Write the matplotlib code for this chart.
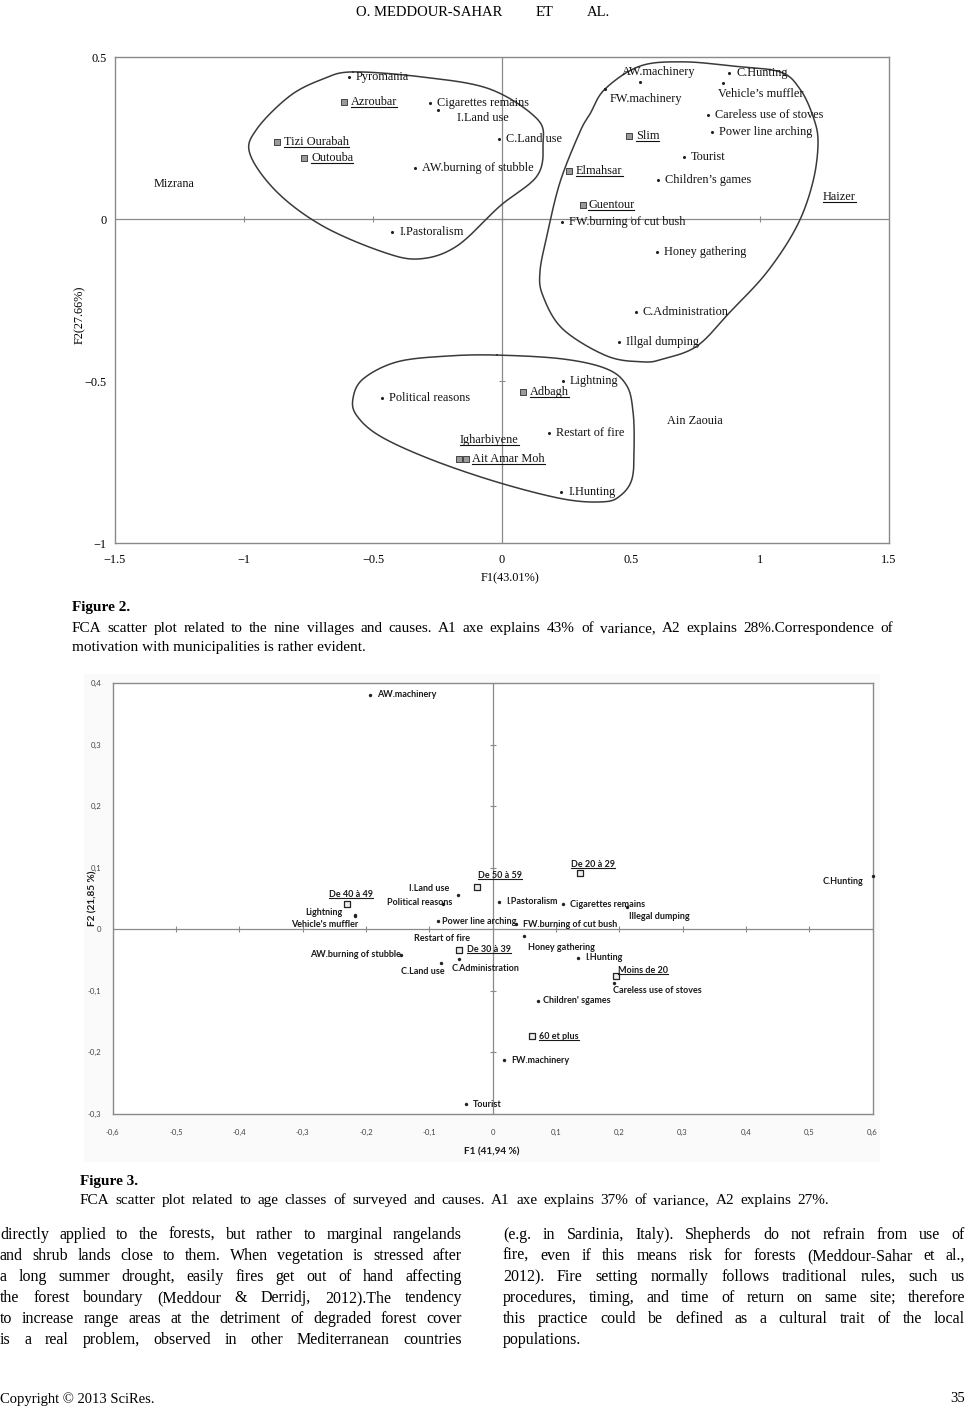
import numpy as np
import matplotlib
matplotlib.use('Agg')
import matplotlib.pyplot as plt
from matplotlib.lines import Line2D
from matplotlib.transforms import IdentityTransform
from matplotlib.patches import Rectangle

W, H = 967, 1414
SERIF = 'Liberation Serif'
SANS = 'Lato'

# ---------------- Figure 2 data ----------------
f2_cause_names = ['Pyromania', 'Cigarettes remains', 'I.Land use', 'C.Land use',
                  'AW.burning of stubble', 'I.Pastoralism', 'AW.machinery', 'FW.machinery',
                  'C.Hunting', 'Vehicle\u2019s muffler', 'Careless use of stoves',
                  'Power line arching', 'Tourist', 'Children\u2019s games',
                  'FW.burning of cut bush', 'Honey gathering', 'C.Administration',
                  'Illgal dumping', 'Lightning', 'Political reasons', 'Restart of fire',
                  'I.Hunting']
f2_cause_x = [-0.593, -0.279, -0.248, -0.012, -0.337, -0.426, 0.535, 0.399, 0.880, 0.857,
              0.798, 0.814, 0.705, 0.605, 0.232, 0.601, 0.519, 0.453, 0.236, -0.465,
              0.182, 0.229]
f2_cause_y = [0.438, 0.358, 0.336, 0.247, 0.157, -0.040, 0.423, 0.401, 0.451, 0.420,
              0.321, 0.268, 0.191, 0.120, -0.009, -0.102, -0.287, -0.380, -0.500, -0.552,
              -0.660, -0.843]
f2_village_names = ['Azroubar', 'Tizi Ourabah', 'Outouba', 'Slim', 'Elmahsar', 'Guentour',
                    'Adbagh', 'Igharbiyene', 'Ait Amar Moh']
f2_village_x = [-0.612, -0.872, -0.767, 0.492, 0.260, 0.314, 0.081, -0.167, -0.140]
f2_village_y = [0.361, 0.238, 0.188, 0.256, 0.148, 0.043, -0.534, -0.741, -0.741]
f2_textonly_names = ['Mizrana', 'Haizer', 'Ain Zaouia']
f2_textonly_x = [-1.35, 1.244, 0.640]
f2_textonly_y = [0.108, 0.068, -0.623]
f2_underlined = ['Azroubar', 'Tizi Ourabah', 'Outouba', 'Slim', 'Elmahsar', 'Guentour',
                 'Haizer', 'Adbagh', 'Igharbiyene', 'Ait Amar Moh']
f2_xticks = [-1.5, -1, -0.5, 0, 0.5, 1, 1.5]
f2_xticklabels = ['\u22121.5', '\u22121', '\u22120.5', '0', '0.5', '1', '1.5']
f2_yticks = [-1, -0.5, 0, 0.5]
f2_yticklabels = ['\u22121', '\u22120.5', '0', '0.5']
f2_xlabel = 'F1(43.01%)'
f2_ylabel = 'F2(27.66%)'

# group outlines (hand-drawn enclosing curves)
grp_left_x = [-0.578, -0.306, -0.047, 0.136, 0.159, 0.136, -0.008, -0.174, -0.318, -0.461,
              -0.694, -0.872, -0.977, -0.950, -0.822, -0.694]
grp_left_y = [0.454, 0.438, 0.401, 0.309, 0.231, 0.133, 0.040, -0.083, -0.123, -0.102,
              -0.022, 0.083, 0.201, 0.278, 0.380, 0.432]
grp_right_x = [0.399, 0.535, 0.702, 0.895, 1.078, 1.155, 1.205, 1.225, 1.205, 1.143, 1.027,
               0.884, 0.756, 0.624, 0.547, 0.407, 0.236, 0.159, 0.147, 0.174, 0.225, 0.302,
               0.341]
grp_right_y = [0.401, 0.472, 0.485, 0.472, 0.454, 0.401, 0.318, 0.238, 0.114, -0.022, -0.164,
               -0.287, -0.392, -0.432, -0.441, -0.423, -0.340, -0.238, -0.164, -0.052, 0.114,
               0.269, 0.324]
grp_bottom_x = [-0.019, 0.236, 0.407, 0.484, 0.508, 0.512, 0.504, 0.457, 0.391, 0.236,
                -0.019, -0.279, -0.473, -0.562, -0.578, -0.539, -0.407, -0.213]
grp_bottom_y = [-0.420, -0.432, -0.463, -0.515, -0.596, -0.701, -0.802, -0.855, -0.873,
                -0.864, -0.812, -0.741, -0.670, -0.608, -0.556, -0.494, -0.441, -0.423]

# ---------------- Figure 3 data ----------------
f3_cause_names = ['AW.machinery', 'Lightning', 'Vehicle\'s muffler', 'I.Land use',
                  'Political reasons', 'I.Pastoralism', 'Cigarettes remains',
                  'Illegal dumping', 'C.Hunting', 'Power line arching',
                  'FW.burning of cut bush', 'Honey gathering', 'Restart of fire',
                  'C.Administration', 'C.Land use', 'AW.burning of stubble', 'I.Hunting',
                  'Careless use of stoves', 'Children\' sgames', 'FW.machinery', 'Tourist']
f3_cause_x = [-0.194, -0.217, -0.217, -0.055, -0.078, 0.010, 0.111, 0.213, 0.601, -0.086,
              0.037, 0.050, -0.053, -0.053, -0.081, -0.145, 0.135, 0.192, 0.072, 0.018,
              -0.042]
f3_cause_y = [0.381, 0.023, 0.021, 0.056, 0.041, 0.045, 0.041, 0.037, 0.086, 0.014,
              0.008, -0.011, -0.033, -0.048, -0.055, -0.041, -0.046, -0.087, -0.116, -0.213,
              -0.284]
f3_age_names = ['De 40 \u00e0 49', 'De 50 \u00e0 59', 'De 20 \u00e0 29', 'De 30 \u00e0 39',
                'Moins de 20', '60 et plus']
f3_age_x = [-0.229, -0.025, 0.138, -0.053, 0.195, 0.063]
f3_age_y = [0.041, 0.069, 0.091, -0.033, -0.076, -0.174]
f3_xticks = [-0.6, -0.5, -0.4, -0.3, -0.2, -0.1, 0, 0.1, 0.2, 0.3, 0.4, 0.5, 0.6]
f3_xticklabels = ['-0,6', '-0,5', '-0,4', '-0,3', '-0,2', '-0,1', '0', '0,1', '0,2', '0,3',
                  '0,4', '0,5', '0,6']
f3_yticks = [-0.3, -0.2, -0.1, 0, 0.1, 0.2, 0.3, 0.4]
f3_yticklabels = ['-0,3', '-0,2', '-0,1', '0', '0,1', '0,2', '0,3', '0,4']
f3_xlabel = 'F1 (41,94 %)'
f3_ylabel = 'F2 (21,85 %)'

# ---------------- text content ----------------
header_parts = ['O. MEDDOUR-SAHAR', 'ET', 'AL.']
cap2_title = 'Figure 2.'
cap2_lines = ['FCA scatter plot related to the nine villages and causes. A1 axe explains 43% of variance, A2 explains 28%.Correspondence of',
              'motivation with municipalities is rather evident.']
cap3_title = 'Figure 3.'
cap3_lines = ['FCA scatter plot related to age classes of surveyed and causes. A1 axe explains 37% of variance, A2 explains 27%.']
body_left = ['directly applied to the forests, but rather to marginal rangelands',
             'and shrub lands close to them. When vegetation is stressed after',
             'a long summer drought, easily fires get out of hand affecting',
             'the forest boundary (Meddour & Derridj, 2012).The tendency',
             'to increase range areas at the detriment of degraded forest cover',
             'is a real problem, observed in other Mediterranean countries']
body_right = ['(e.g. in Sardinia, Italy). Shepherds do not refrain from use of',
              'fire, even if this means risk for forests (Meddour-Sahar et al.,',
              '2012). Fire setting normally follows traditional rules, such us',
              'procedures, timing, and time of return on same site; therefore',
              'this practice could be defined as a cultural trait of the local',
              'populations.']
footer_left = 'Copyright \u00a9 2013 SciRes.'
footer_right = '35'

# ---------------- helpers ----------------
def fx(px):
    return px / W

def fy(py):
    return 1 - py / H

def closed_curve(xs, ys, n=30):
    P = np.column_stack([xs, ys])
    m = len(P)
    out = []
    t = np.linspace(0, 1, n, endpoint=False)[:, None]
    for i in range(m):
        p0, p1, p2, p3 = P[(i - 1) % m], P[i], P[(i + 1) % m], P[(i + 2) % m]
        pts = 0.5 * ((2 * p1) + (-p0 + p2) * t + (2 * p0 - 5 * p1 + 4 * p2 - p3) * t ** 2
                     + (-p0 + 3 * p1 - 3 * p2 + p3) * t ** 3)
        out.append(pts)
    out.append(out[0][:1])
    out = np.vstack(out)
    return out[:, 0], out[:, 1]

fig = plt.figure(figsize=(W / 100, H / 100), dpi=100)
fig.patch.set_facecolor('white')

underline_texts = []

# ================= Figure 2 =================
ax1 = fig.add_axes([fx(115), fy(543), (889 - 115) / W, (543 - 57) / H])
ax1.set_xlim(-1.5, 1.5)
ax1.set_ylim(-1, 0.5)
for s in ax1.spines.values():
    s.set_color('#8a8a8a')
    s.set_linewidth(1.0)
ax1.axhline(0, color='#8a8a8a', lw=0.9, zorder=1)
ax1.axvline(0, color='#8a8a8a', lw=0.9, zorder=1)
ax1.plot(f2_xticks[1:-1], [0] * (len(f2_xticks) - 2), ls='none', marker='|', ms=4,
         color='#8a8a8a', mew=0.8)
ax1.plot([0] * len(f2_yticks[1:-1]), f2_yticks[1:-1], ls='none', marker='_', ms=4,
         color='#8a8a8a', mew=0.8)
ax1.set_xticks(f2_xticks)
ax1.set_xticklabels(f2_xticklabels, fontfamily=SERIF, fontsize=8.8)
ax1.set_yticks(f2_yticks)
ax1.set_yticklabels(f2_yticklabels, fontfamily=SERIF, fontsize=8.8)
ax1.tick_params(length=0, pad=6)
ax1.tick_params(axis='x', pad=8)

for gx, gy in [(grp_left_x, grp_left_y), (grp_right_x, grp_right_y),
               (grp_bottom_x, grp_bottom_y)]:
    cx, cy = closed_curve(gx, gy)
    ax1.plot(cx, cy, color='#3a3a3a', lw=1.1, zorder=2)

ax1.scatter(f2_cause_x, f2_cause_y, s=5, color='#222222', zorder=4, linewidths=0)
ax1.scatter(f2_village_x, f2_village_y, s=14, marker='s', facecolor='#9a9a9a',
            edgecolor='#444444', linewidths=0.7, zorder=4)

f2_offsets = {'I.Land use': (19, -8), 'AW.machinery': (-18, 10),
              'FW.machinery': (5, -10), 'Vehicle\u2019s muffler': (-5, -11),
              'Igharbiyene': (1, 19), 'Ait Amar Moh': (6, 0), 'Guentour': (5, 0)}
lab_kw2 = dict(fontfamily=SERIF, fontsize=8.8, color='#111111', va='center', zorder=5)
for name, x, y in zip(f2_cause_names + f2_village_names, f2_cause_x + f2_village_x,
                      f2_cause_y + f2_village_y):
    off = f2_offsets.get(name, (7, 0))
    t = ax1.annotate(name, (x, y), xytext=off[:2], textcoords='offset pixels',
                     ha='left', **lab_kw2)
    if name in f2_underlined:
        underline_texts.append(t)
for name, x, y in zip(f2_textonly_names, f2_textonly_x, f2_textonly_y):
    t = ax1.text(x, y, name, ha='left', **lab_kw2)
    if name in f2_underlined:
        underline_texts.append(t)

fig.text(fx(510), fy(578), f2_xlabel, fontfamily=SERIF, fontsize=8.8, ha='center',
         va='center')
fig.text(fx(80), fy(315), f2_ylabel, fontfamily=SERIF, fontsize=8.8, ha='center',
         va='center', rotation=90)

# ================= Figure 3 =================
bg = Rectangle((fx(84), fy(1162)), (880 - 84) / W, (1162 - 674) / H,
               transform=fig.transFigure, facecolor='#fafafa', edgecolor='none',
               zorder=-10)
fig.add_artist(bg)
ax2 = fig.add_axes([fx(112.5), fy(1114), (872.5 - 112.5) / W, (1114 - 683) / H])
ax2.set_zorder(1)
ax2.set_facecolor('white')
ax2.set_xlim(-0.6, 0.6)
ax2.set_ylim(-0.3, 0.4)
for s in ax2.spines.values():
    s.set_color('#8a8a8a')
    s.set_linewidth(1.0)
ax2.axhline(0, color='#8a8a8a', lw=0.9, zorder=1)
ax2.axvline(0, color='#8a8a8a', lw=0.9, zorder=1)
ax2.plot([v for v in f3_xticks if v != 0], [0] * (len(f3_xticks) - 1), ls='none',
         marker='|', ms=5, color='#8a8a8a', mew=0.8)
ax2.plot([0] * (len(f3_yticks) - 1), [v for v in f3_yticks if v != 0], ls='none',
         marker='_', ms=5, color='#8a8a8a', mew=0.8)
ax2.set_xticks(f3_xticks)
ax2.set_xticklabels(f3_xticklabels, fontfamily=SANS, fontsize=5.6, color='#444444')
ax2.set_yticks(f3_yticks)
ax2.set_yticklabels(f3_yticklabels, fontfamily=SANS, fontsize=5.6, color='#444444')
ax2.tick_params(length=0, pad=8)
ax2.tick_params(axis='x', pad=11)

ax2.scatter(f3_cause_x, f3_cause_y, s=6, color='#222222', zorder=4, linewidths=0,
            clip_on=False)
ax2.scatter(f3_age_x, f3_age_y, s=14, marker='s', facecolor='#eeeeee',
            edgecolor='#222222', linewidths=0.9, zorder=4, clip_on=False)

f3_offsets = {'De 40 \u00e0 49': (4, 10, 'center'), 'Lightning': (-13, 3, 'right'),
              'Vehicle\'s muffler': (3, -8, 'right'), 'I.Land use': (-8, 6, 'right'),
              'Political reasons': (9, 2, 'right'), 'De 50 \u00e0 59': (1, 11, 'left'),
              'De 20 \u00e0 29': (13, 9, 'center'), 'Illegal dumping': (2, -10, 'left'),
              'C.Hunting': (-10, -5, 'right'), 'Power line arching': (4, -1, 'left'),
              'Honey gathering': (4, -11, 'left'), 'Restart of fire': (11, 11, 'right'),
              'C.Administration': (-7, -10, 'left'), 'C.Land use': (3, -8, 'right'),
              'AW.burning of stubble': (0, 0, 'right'), 'Moins de 20': (2, 6, 'left'),
              'Careless use of stoves': (-1, -8, 'left'), 'Children\' sgames': (5, 0, 'left'),
              'De 30 \u00e0 39': (8, 0, 'left')}
lab_kw3 = dict(fontfamily=SANS, fontsize=6.5, fontweight='bold', color='#1a1a1a',
               va='center', zorder=5)
for name, x, y in zip(f3_cause_names + f3_age_names, f3_cause_x + f3_age_x,
                      f3_cause_y + f3_age_y):
    off = f3_offsets.get(name, (7, 0, 'left'))
    t = ax2.annotate(name, (x, y), xytext=off[:2], textcoords='offset pixels',
                     ha=off[2], annotation_clip=False, **lab_kw3)
    if name in f3_age_names:
        underline_texts.append(t)

fig.text(fx(492), fy(1152), f3_xlabel, fontfamily=SANS, fontsize=7.2, fontweight='bold',
         ha='center', va='center', color='#1a1a1a')
fig.text(fx(93), fy(898), f3_ylabel, fontfamily=SANS, fontsize=7.2, fontweight='bold',
         ha='center', va='center', rotation=90, color='#1a1a1a')

# ================= page text =================
renderer = fig.canvas.get_renderer()

def place_line(text, x0, x1, y, size, justify=True, weight='normal', sep=' '):
    # y is the text centre in pixels; words share a common baseline
    base = y + size * 0.36
    if not justify:
        fig.text(fx(x0), fy(base), text, fontfamily=SERIF, fontsize=size,
                 fontweight=weight, ha='left', va='baseline')
        return
    words = text.split(sep) if isinstance(text, str) else list(text)
    arts = [fig.text(0, fy(base), w, fontfamily=SERIF, fontsize=size, fontweight=weight,
                     ha='left', va='baseline') for w in words]
    widths = [a.get_window_extent(renderer).width for a in arts]
    gap = (x1 - x0 - sum(widths)) / (len(words) - 1)
    x = x0
    for a, w in zip(arts, widths):
        a.set_x(fx(x))
        x += w + gap

place_line(header_parts, 356, 610, 12, 10.5, justify=True)

place_line(cap2_title, 72, 133, 607, 11, justify=False, weight='bold')
place_line(cap2_lines[0], 72, 893, 628, 11, justify=True)
place_line(cap2_lines[1], 72, 893, 647, 11, justify=False)
place_line(cap3_title, 80, 141, 1181, 11, justify=False, weight='bold')
place_line(cap3_lines[0], 80, 829, 1200, 11, justify=True)

body_y = [1235, 1256, 1277, 1298, 1319, 1340]
for i, (ln, y) in enumerate(zip(body_left, body_y)):
    place_line(ln, 0, 462, y, 11.5, justify=True)
for i, (ln, y) in enumerate(zip(body_right, body_y)):
    place_line(ln, 503, 965, y, 11.5, justify=(i < len(body_right) - 1))

fig.text(fx(0), fy(1399), footer_left, fontfamily=SERIF, fontsize=10.5, ha='left',
         va='center')
fig.text(fx(965), fy(1399), footer_right, fontfamily=SERIF, fontsize=10.5, ha='right',
         va='center')

# ================= underlines =================
fig.canvas.draw()
renderer = fig.canvas.get_renderer()
for t in underline_texts:
    bb = t.get_window_extent(renderer)
    yline = bb.y0 + 1
    fig.add_artist(Line2D([bb.x0, bb.x1], [yline, yline], transform=IdentityTransform(),
                          color=t.get_color(), lw=0.8, zorder=20))

fig.savefig('out.png', dpi=100, facecolor='white')
